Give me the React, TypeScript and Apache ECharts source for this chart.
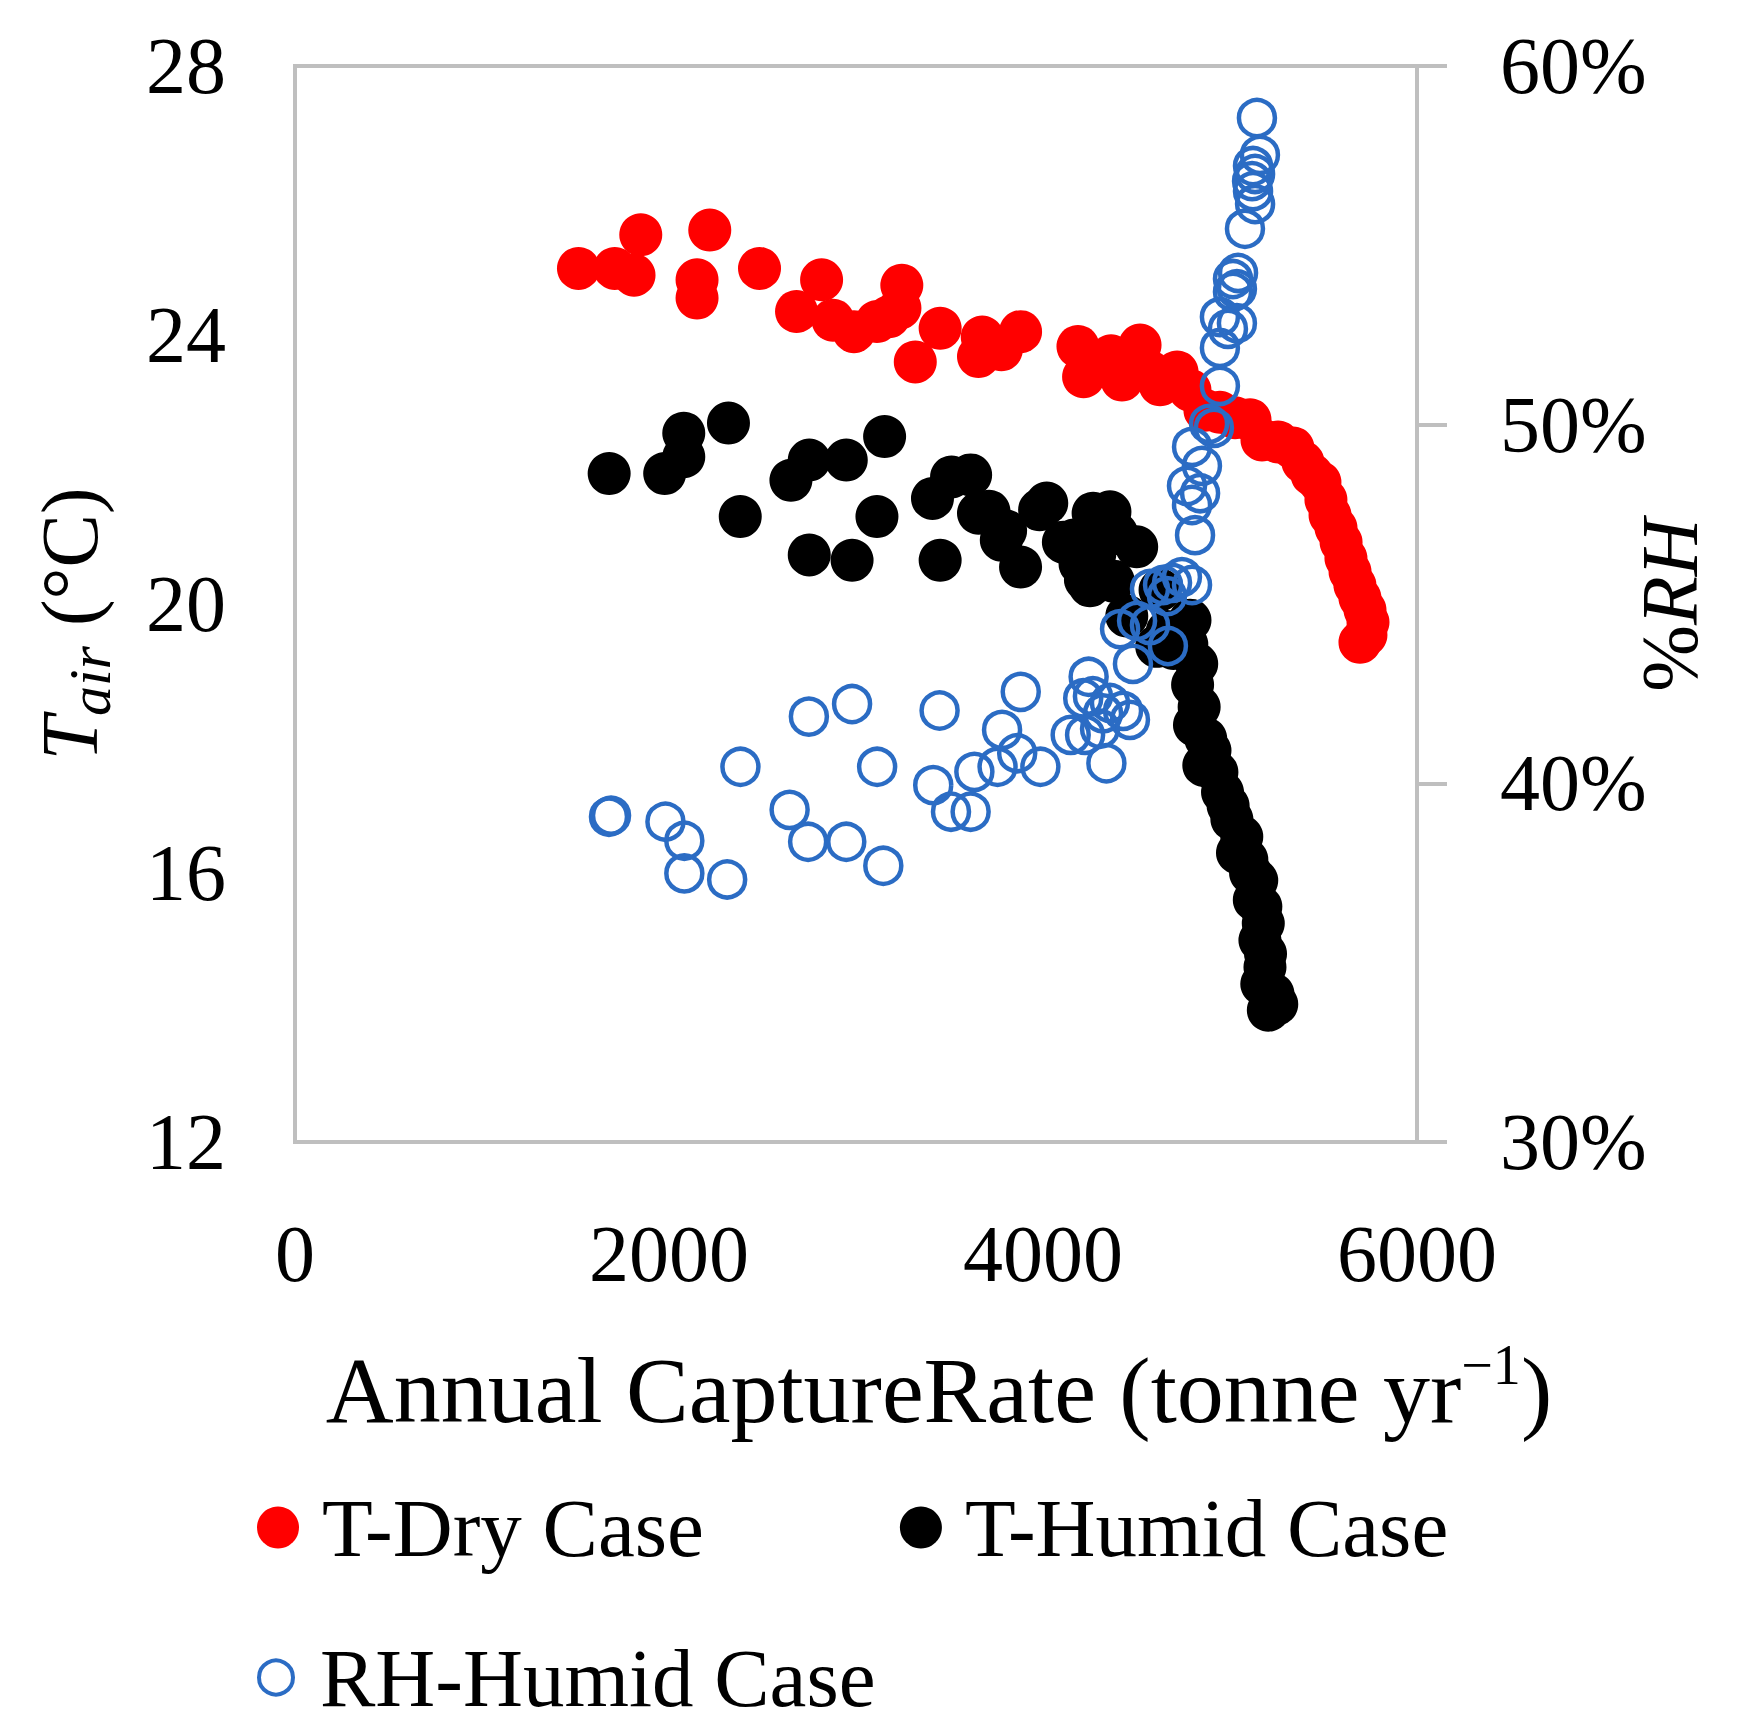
import React, { useEffect, useRef } from "react";
import * as echarts from "echarts";

// ---------- data ----------
const xTicks = [0, 2000, 4000, 6000];
const tempTicks = [12, 16, 20, 24, 28];
const rhTicks = [30, 40, 50, 60];

// T-Dry Case: [annual capture rate (tonne/yr), T air (°C)]
const tDry: [number, number][] = [
  [1516, 24.99], [1710, 24.99], [1813, 24.89], [1849, 25.49], [2218, 25.56],
  [2150, 24.82], [2150, 24.55], [2484, 24.99], [2816, 24.82], [2682, 24.35],
  [2877, 24.22], [2989, 24.05], [3112, 24.2], [3176, 24.27], [3245, 24.74],
  [3235, 24.4], [3450, 24.1], [3317, 23.6], [3675, 23.97], [3655, 23.68],
  [3880, 24.05], [3777, 23.78], [4187, 23.83], [4217, 23.38], [4364, 23.69],
  [4422, 23.33], [4519, 23.85], [4572, 23.45], [4626, 23.26], [4717, 23.45],
  [4786, 23.18], [4866, 22.88], [4946, 22.85], [5027, 22.77], [5107, 22.74],
  [5171, 22.44], [5257, 22.41], [5337, 22.32], [5390, 22.11], [5439, 21.92],
  [5481, 21.81], [5513, 21.55], [5535, 21.32], [5567, 21.13], [5594, 20.92],
  [5620, 20.68], [5642, 20.48], [5668, 20.28], [5695, 20.09], [5722, 19.91],
  [5738, 19.73], [5727, 19.54], [5695, 19.43],
];

// T-Humid Case: [annual capture rate (tonne/yr), T air (°C)]
const tHumid: [number, number][] = [
  [1680, 21.94], [1977, 21.94], [2079, 22.54], [2079, 22.19], [2318, 22.69],
  [2381, 21.3], [2652, 21.84], [2750, 22.14], [2750, 20.73], [2948, 22.14],
  [2979, 20.65], [3112, 21.3], [3153, 22.49], [3409, 21.57], [3450, 20.65],
  [3511, 21.89], [3613, 21.92], [3655, 21.35], [3711, 21.38], [3777, 20.95],
  [3800, 21.09], [3880, 20.55], [3982, 21.4], [4020, 21.5], [4109, 20.92],
  [4129, 20.9], [4166, 20.95], [4198, 20.6], [4227, 20.36], [4251, 20.27],
  [4268, 21.35], [4277, 20.74], [4337, 21.3], [4358, 21.37], [4376, 20.34],
  [4394, 21.05], [4448, 19.82], [4501, 20.85], [4626, 20.21], [4608, 19.37],
  [4664, 19.59], [4697, 19.34], [4786, 19.76], [4769, 19.4], [4822, 19.11],
  [4800, 18.8], [4835, 18.47], [4810, 18.2], [4870, 18.0], [4893, 17.82],
  [4860, 17.6], [4930, 17.5], [4960, 17.2], [4990, 17.0], [5010, 16.8],
  [5063, 16.54], [5040, 16.3], [5090, 16.2], [5110, 16.0], [5143, 15.89],
  [5130, 15.6], [5165, 15.5], [5178, 15.25], [5160, 15.0], [5190, 14.8],
  [5187, 14.6], [5170, 14.35], [5230, 14.2], [5205, 13.96], [5250, 14.05],
];

// RH-Humid Case: [annual capture rate (tonne/yr), RH (%)]
const rhHumid: [number, number][] = [
  [1679, 39.07], [1690, 39.1], [1981, 38.93], [2082, 38.4], [2082, 37.49],
  [2311, 37.32], [2382, 40.46], [2748, 41.86], [2979, 42.21], [2645, 39.26],
  [2744, 38.37], [2948, 38.37], [3113, 40.46], [3146, 37.7], [3447, 42.03],
  [3413, 39.95], [3508, 39.21], [3613, 39.21], [3633, 40.32], [3757, 40.46],
  [3862, 40.84], [3781, 41.49], [3881, 42.55], [3986, 40.46], [4244, 42.97],
  [4215, 42.37], [4148, 41.35], [4225, 41.35], [4339, 40.56], [4321, 41.95],
  [4267, 42.43], [4358, 42.24], [4428, 42.02], [4465, 41.77], [4305, 41.52],
  [4481, 43.33], [4668, 43.83], [4572, 44.41], [4412, 44.3], [4503, 44.53],
  [4663, 45.22], [4797, 45.53], [4572, 45.42], [4642, 45.53], [4690, 45.59],
  [4743, 45.75], [4813, 46.92], [4797, 47.76], [4840, 48.09], [4770, 48.29],
  [4850, 48.85], [4797, 49.38], [4914, 49.91], [4888, 50.02], [4946, 51.08],
  [4946, 52.14], [4989, 52.67], [5037, 52.83], [4946, 53.0], [5016, 53.7],
  [5037, 53.78], [5016, 54.06], [5043, 54.23], [5080, 55.46], [5134, 56.15],
  [5123, 56.51], [5118, 56.79], [5134, 56.99], [5123, 57.21], [5160, 57.52],
  [5144, 58.55],
];

const seriesNames = ["T-Dry Case", "T-Humid Case", "RH-Humid Case"];

// ---------- styling ----------
const FONT = '"Liberation Serif", "Times New Roman", serif';
const RED = "#FF0000";
const BLACK = "#000000";
const BLUE = "#2B6CC4";
const FRAME = "#BFBFBF";

export default function App() {
  const ref = useRef<HTMLDivElement | null>(null);

  useEffect(() => {
    document.body.style.margin = "0";
    if (!ref.current) return;
    const chart = echarts.init(ref.current, null, { renderer: "svg" });

    const option: any = {
      animation: false,
      backgroundColor: "#ffffff",
      grid: {
        left: 295,
        top: 66,
        width: 1122,
        height: 1076,
        show: true,
        borderColor: FRAME,
        borderWidth: 4,
        backgroundColor: "transparent",
        containLabel: false,
        outerBoundsMode: "none",
      },
      xAxis: {
        type: "value",
        min: xTicks[0],
        max: xTicks[xTicks.length - 1],
        interval: xTicks[1] - xTicks[0],
        axisLine: { show: false },
        axisTick: { show: false },
        splitLine: { show: false },
        axisLabel: {
          fontFamily: FONT,
          fontSize: 80,
          color: "#000",
          margin: 72,
          formatter: (v: number) => String(v),
        },
      },
      yAxis: [
        {
          type: "value",
          position: "left",
          min: tempTicks[0],
          max: tempTicks[tempTicks.length - 1],
          interval: tempTicks[1] - tempTicks[0],
          axisLine: { show: false },
          axisTick: { show: false },
          splitLine: { show: false },
          axisLabel: {
            fontFamily: FONT,
            fontSize: 80,
            color: "#000",
            margin: 69,
            formatter: (v: number) => String(v),
          },
        },
        {
          type: "value",
          position: "right",
          min: rhTicks[0],
          max: rhTicks[rhTicks.length - 1],
          interval: rhTicks[1] - rhTicks[0],
          axisLine: { show: false },
          axisTick: { show: true, length: 30, lineStyle: { color: FRAME, width: 4 } },
          splitLine: { show: false },
          axisLabel: {
            fontFamily: FONT,
            fontSize: 80,
            color: "#000",
            margin: 83,
            formatter: (v: number) => `${v}%`,
          },
        },
      ],
      legend: [
        {
          data: [
            { name: seriesNames[0], icon: "circle", itemStyle: { color: RED, opacity: 1 } },
            { name: seriesNames[1], icon: "circle", itemStyle: { color: BLACK, opacity: 1 } },
          ],
          orient: "horizontal",
          left: 257,
          top: 1486,
          padding: 0,
          itemWidth: 78,
          itemHeight: 42,
          itemGap: 196,
          selectedMode: false,
          textStyle: { fontFamily: FONT, fontSize: 83, color: "#000" },
        },
        {
          data: [
            {
              name: seriesNames[2],
              icon: "circle",
              itemStyle: { color: "#ffffff", borderColor: BLUE, borderWidth: 4, opacity: 1 },
            },
          ],
          orient: "horizontal",
          left: 257,
          top: 1636,
          padding: 0,
          itemWidth: 78,
          itemHeight: 34,
          selectedMode: false,
          textStyle: { fontFamily: FONT, fontSize: 83, color: "#000" },
        },
      ],
      graphic: [
        {
          type: "text",
          x: 939,
          y: 1390,
          silent: true,
          style: {
            text: "{n|Annual CaptureRate (tonne yr}{s|−1}{n|)}",
            align: "center",
            verticalAlign: "middle",
            textAlign: "center",
            textVerticalAlign: "middle",
            fill: "#000",
            rich: {
              n: { fontFamily: FONT, fontSize: 94, lineHeight: 106, fill: "#000" },
              s: {
                fontFamily: FONT,
                fontSize: 56,
                lineHeight: 74,
                verticalAlign: "top",
                fill: "#000",
              },
            },
          },
        },
        {
          type: "text",
          x: 70,
          y: 624,
          rotation: Math.PI / 2,
          silent: true,
          style: {
            text: "{i|T}{s|air}{n| (°C)}",
            align: "center",
            verticalAlign: "middle",
            textAlign: "center",
            textVerticalAlign: "middle",
            fill: "#000",
            rich: {
              i: { fontFamily: FONT, fontStyle: "italic", fontSize: 80, lineHeight: 100, fill: "#000" },
              s: {
                fontFamily: FONT,
                fontStyle: "italic",
                fontSize: 60,
                lineHeight: 50,
                verticalAlign: "bottom",
                fill: "#000",
              },
              n: { fontFamily: FONT, fontSize: 80, lineHeight: 100, fill: "#000" },
            },
          },
        },
        {
          type: "text",
          x: 1670,
          y: 605,
          rotation: Math.PI / 2,
          silent: true,
          style: {
            text: "{n|%}{i|RH}",
            align: "center",
            verticalAlign: "middle",
            textAlign: "center",
            textVerticalAlign: "middle",
            fill: "#000",
            rich: {
              n: { fontFamily: FONT, fontSize: 80, lineHeight: 100, fill: "#000" },
              i: { fontFamily: FONT, fontStyle: "italic", fontSize: 80, lineHeight: 100, fill: "#000" },
            },
          },
        },
      ],
      series: [
        {
          name: seriesNames[0],
          type: "scatter",
          xAxisIndex: 0,
          yAxisIndex: 0,
          data: tDry,
          symbol: "circle",
          symbolSize: 43,
          itemStyle: { color: RED, opacity: 1 },
          emphasis: { disabled: true },
          silent: true,
        },
        {
          name: seriesNames[1],
          type: "scatter",
          xAxisIndex: 0,
          yAxisIndex: 0,
          data: tHumid,
          symbol: "circle",
          symbolSize: 43,
          itemStyle: { color: BLACK, opacity: 1 },
          emphasis: { disabled: true },
          silent: true,
        },
        {
          name: seriesNames[2],
          type: "scatter",
          xAxisIndex: 0,
          yAxisIndex: 1,
          data: rhHumid,
          symbol: "circle",
          symbolSize: 36,
          itemStyle: {
            color: "rgba(255,255,255,0)",
            borderColor: BLUE,
            borderWidth: 4.5,
            opacity: 1,
          },
          emphasis: { disabled: true },
          silent: true,
        },
      ],
    };

    chart.setOption(option);
    return () => {
      chart.dispose();
    };
  }, []);

  return <div ref={ref} style={{ width: 1740, height: 1735 }} />;
}
